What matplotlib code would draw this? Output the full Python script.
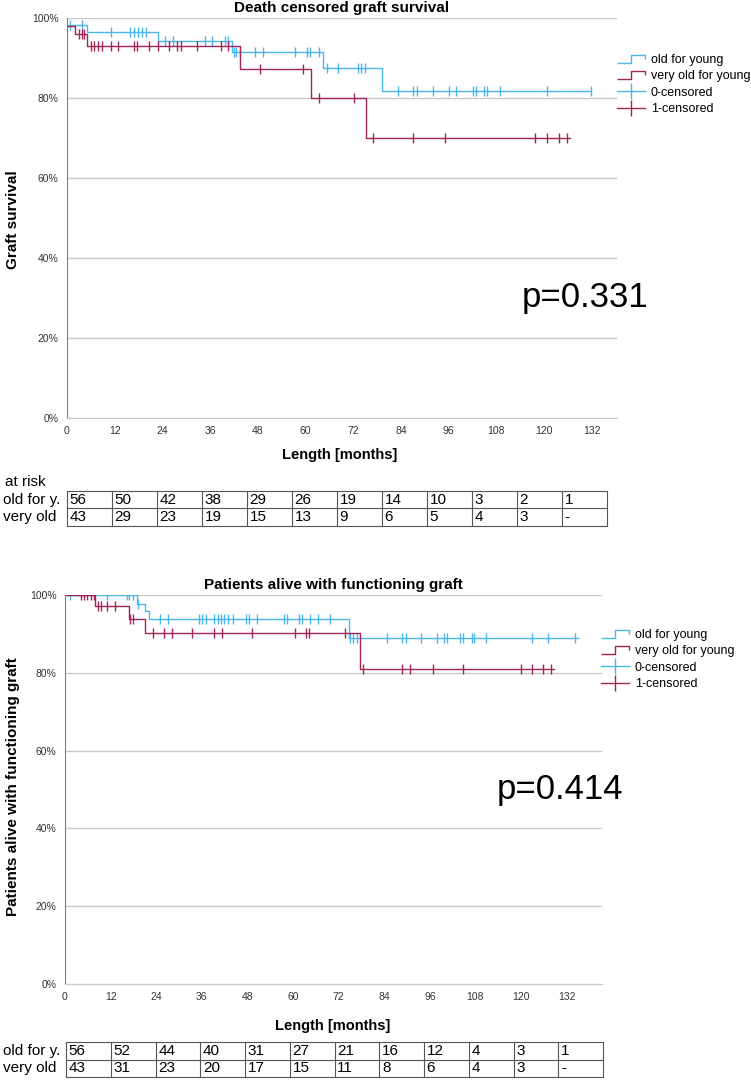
import numpy as np
import matplotlib
matplotlib.use("Agg")
import matplotlib.pyplot as plt
from matplotlib.lines import Line2D
from matplotlib.path import Path

plt.rcParams['font.family'] = ['Liberation Sans', 'DejaVu Sans']

BLUE = '#4cb6ee'
RED = '#a2255a'

# --- top chart: death censored graft survival ---
top_blue_t = [0, 5.0, 22.8, 41.6, 64.3, 79.2]
top_blue_s = [0.982, 0.965, 0.943, 0.915, 0.876, 0.818]
top_blue_end = 131.8
top_blue_cens = [0.75, 3.9, 11.0, 15.8, 16.8, 17.9, 18.9, 19.9, 24.7, 26.7, 34.7, 36.6,
                 39.7, 40.6, 41.9, 42.5, 43.5, 47.3, 49.4, 57.4, 60.5, 61.1, 63.3, 65.3,
                 68.3, 73.3, 74.1, 75.0, 83.2, 87.1, 88.0, 92.0, 96.0, 98.0, 102.1, 102.9,
                 105.0, 105.8, 108.9, 120.8, 131.8]
top_red_t = [0, 2.0, 5.0, 43.5, 61.3, 75.2]
top_red_s = [0.981, 0.959, 0.929, 0.872, 0.799, 0.701]
top_red_end = 126.6
top_red_cens = [2.9, 3.7, 4.4, 6.0, 6.9, 7.9, 8.9, 11.0, 12.9, 16.9, 17.7, 20.7, 22.8,
                25.7, 27.7, 28.6, 32.6, 38.7, 40.6, 48.6, 59.5, 63.3, 72.2, 77.1, 87.1,
                95.1, 117.7, 120.8, 123.8, 125.7]
top_risk_young = ['56', '50', '42', '38', '29', '26', '19', '14', '10', '3', '2', '1']
top_risk_old = ['43', '29', '23', '19', '15', '13', '9', '6', '5', '4', '3', '-']

# --- bottom chart: patients alive with functioning graft ---
bot_blue_t = [0, 19.0, 21.1, 22.1, 74.6]
bot_blue_s = [1.0, 0.978, 0.959, 0.938, 0.890]
bot_blue_end = 135.0
bot_blue_cens = [1.3, 11.0, 16.2, 16.9, 17.8, 19.2, 25.0, 27.2, 35.3, 36.1, 37.0, 39.3,
                 40.2, 41.1, 41.9, 43.0, 44.1, 47.6, 48.4, 50.4, 57.6, 58.5, 61.6, 62.4,
                 64.5, 66.7, 69.6, 75.0, 75.9, 76.8, 84.7, 88.6, 89.6, 93.6, 97.8, 99.8,
                 100.6, 104.0, 104.8, 107.0, 107.7, 110.7, 122.9, 127.1, 134.2]
bot_red_t = [0, 7.9, 16.8, 21.1, 77.6]
bot_red_s = [1.0, 0.973, 0.938, 0.903, 0.810]
bot_red_end = 128.8
bot_red_cens = [4.1, 5.0, 5.9, 6.8, 7.6, 8.8, 9.6, 11.0, 13.2, 17.2, 17.8, 23.1, 26.1,
                28.2, 33.3, 39.3, 41.3, 49.3, 60.4, 63.4, 64.3, 73.7, 78.5, 88.8, 90.8,
                96.8, 104.8, 120.0, 122.9, 125.9, 127.8]
bot_risk_young = ['56', '52', '44', '40', '31', '27', '21', '16', '12', '4', '3', '1']
bot_risk_old = ['43', '31', '23', '20', '17', '15', '11', '8', '6', '4', '3', '-']

xticks = np.arange(0, 133, 12)
W, H = 751, 1089


def fx(px):
    return px / W


def fy(py):
    return 1 - py / H


def km(ax, t, s, end, cens, color):
    tt = list(t) + [end]
    ss = list(s) + [s[-1]]
    ax.step(tt, ss, where='post', color=color, lw=1.0)
    idx = np.searchsorted(t, cens, side='right') - 1
    ax.plot(cens, np.array(s)[idx], ls='none', marker='|', ms=7, mew=1.0, color=color)


def setup(ax, xmax, title):
    ax.set_xlim(0, xmax)
    ax.set_ylim(0, 1.0)
    ax.set_yticks(np.arange(0, 1.01, 0.2))
    ax.set_yticklabels(['%d%%' % v for v in range(0, 101, 20)])
    ax.set_xticks(xticks)
    ax.grid(axis='y', color='#c8c8c8', lw=1.0)
    ax.set_axisbelow(True)
    for sp in ['top', 'right']:
        ax.spines[sp].set_visible(False)
    ax.spines['left'].set_color('#808080')
    ax.spines['bottom'].set_color('#c8c8c8')
    ax.tick_params(length=0, labelsize=7.5, colors='#333333', pad=6)
    ax.set_title(title, fontsize=11, fontweight='bold', pad=4)


def risk_table(rect, young, old, label_x):
    tax = fig.add_axes(rect)
    tax.set_xlim(0, 12)
    tax.set_ylim(0, 2)
    tax.axis('off')
    for i in range(13):
        tax.plot([i, i], [0, 2], color='#555555', lw=0.8, clip_on=False)
    for j in range(3):
        tax.plot([0, 12], [j, j], color='#555555', lw=0.8, clip_on=False)
    for i in range(12):
        tax.text(i + 0.06, 1.5, young[i], fontsize=11, va='center', ha='left')
        tax.text(i + 0.06, 0.5, old[i], fontsize=11, va='center', ha='left')
    fig.text(label_x, rect[1] + rect[3] * 0.75, 'old for y.', fontsize=11, va='center')
    fig.text(label_x, rect[1] + rect[3] * 0.25, 'very old', fontsize=11, va='center')


def step_marker():
    return Path([(-1, -0.3), (0, -0.3), (0, 0.3), (1, 0.3), (1, 0.0)],
                [Path.MOVETO, Path.LINETO, Path.LINETO, Path.LINETO, Path.LINETO])


def legend_handles():
    mk = step_marker()
    return [Line2D([0], [0], ls='none', marker=mk, ms=20, mew=1.0, mfc='none', color=BLUE),
            Line2D([0], [0], ls='none', marker=mk, ms=20, mew=1.0, mfc='none', color=RED),
            Line2D([0], [0], color=BLUE, lw=1.0, marker='|', ms=12, mew=1.0),
            Line2D([0], [0], color=RED, lw=1.0, marker='|', ms=12, mew=1.0)]


labels = ['old for young', 'very old for young', '0-censored', '1-censored']

fig = plt.figure(figsize=(W / 100, H / 100), dpi=100)

# top chart
ax1 = fig.add_axes([fx(67), fy(418), fx(617 - 67), (418 - 18) / H])
setup(ax1, 138.4, 'Death censored graft survival')
km(ax1, top_blue_t, top_blue_s, top_blue_end, top_blue_cens, BLUE)
km(ax1, top_red_t, top_red_s, top_red_end, top_red_cens, RED)
ax1.text(0.942, 0.30, 'p=0.331', transform=ax1.transAxes, fontsize=25, ha='center', va='center')
fig.text(fx(13), fy(220), 'Graft survival', rotation=90, fontsize=11, fontweight='bold',
         ha='center', va='center')
fig.text(fx(340), fy(455), 'Length [months]', fontsize=10.5, fontweight='bold', ha='center', va='center')
fig.text(fx(5), fy(482), 'at risk', fontsize=11, va='center')
fig.legend(legend_handles(), labels, loc='upper left', bbox_to_anchor=(fx(617), fy(54)),
           frameon=False, fontsize=9, numpoints=1, handlelength=2.2, handletextpad=0.5,
           labelspacing=0.35, borderpad=0, borderaxespad=0)
risk_table([fx(67), fy(526), fx(607 - 67), 35 / H], top_risk_young, top_risk_old, fx(3))

# bottom chart
ax2 = fig.add_axes([fx(65), fy(984), fx(602 - 65), (984 - 595) / H])
setup(ax2, 141.3, 'Patients alive with functioning graft')
km(ax2, bot_blue_t, bot_blue_s, bot_blue_end, bot_blue_cens, BLUE)
km(ax2, bot_red_t, bot_red_s, bot_red_end, bot_red_cens, RED)
ax2.text(0.922, 0.50, 'p=0.414', transform=ax2.transAxes, fontsize=25, ha='center', va='center')
fig.text(fx(13), fy(787), 'Patients alive with functioning graft', rotation=90, fontsize=11,
         fontweight='bold', ha='center', va='center')
fig.text(fx(333), fy(1026), 'Length [months]', fontsize=10.5, fontweight='bold', ha='center', va='center')
fig.legend(legend_handles(), labels, loc='upper left', bbox_to_anchor=(fx(601), fy(629)),
           frameon=False, fontsize=9, numpoints=1, handlelength=2.2, handletextpad=0.5,
           labelspacing=0.35, borderpad=0, borderaxespad=0)
risk_table([fx(66), fy(1077), fx(603 - 66), 35 / H], bot_risk_young, bot_risk_old, fx(3))

fig.savefig('out.png', dpi=100, facecolor='white')
